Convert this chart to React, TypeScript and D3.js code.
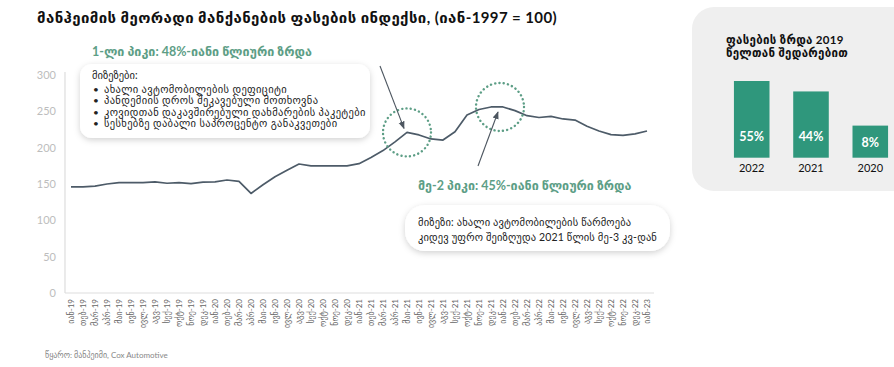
import * as d3 from "d3";

const months = ["იან", "თებ", "მარ", "აპრ", "მაი", "ივნ", "ივლ", "აგვ", "სექ", "ოქტ", "ნოე", "დეკ"];
const years = ["19", "20", "21", "22"];
const periods = [...years.flatMap((y) => months.map((m) => `${m}-${y}`)), "იან-23"];

// manheim index, jan 2019 .. jan 2023
const priceIndex = [
  146, 146, 147, 150, 152, 152, 152, 153, 151, 152, 150.5, 152.5,
  153, 155.5, 153.5, 137, 149, 160, 169, 177.5, 175, 175, 175, 175,
  178, 186.5, 196, 208, 221, 217.5, 212, 210.5, 222, 245, 252.5, 256,
  256, 251, 244, 241.5, 243, 239.5, 238, 229.5, 223, 218, 217, 219,
  223,
];
const yTicks = [0, 50, 100, 150, 200, 250, 300];

const compareYears = ["2022", "2021", "2020"];
const compareGrowth = [55, 44, 8];

const reasons = [
  "ახალი ავტომობილების დეფიციტი",
  "პანდემიის დროს შეკავებული მოთხოვნა",
  "კოვიდთან დაკავშირებული დახმარების პაკეტები",
  "სესხებზე დაბალი საპროცენტო განაკვეთები",
];

const W = 894;
const H = 367;
const FONT = "Lato, 'DejaVu Sans', sans-serif";
const GREEN = "#5d9e86";
const TEAL = "#2f977c";
const LINE = "#4d5b68";

export default function App() {
  const x = d3.scalePoint<string>().domain(periods).range([71, 647]);
  const y = d3.scaleLinear().domain([0, 300]).range([293, 75]);
  const line = d3
    .line<number>()
    .x((_, i) => x(periods[i]) as number)
    .y((d) => y(d));

  const bx = d3.scaleBand().domain(compareYears).range([728, 894]).paddingInner(0.4).paddingOuter(0.1);
  const by = d3.scaleLinear().domain([-25.8, 55]).range([157.7, 81]);

  const peak1 = { cx: x(periods[28]) as number, cy: y(priceIndex[28]) };
  const peak2 = { cx: ((x(periods[35]) as number) + (x(periods[36]) as number)) / 2 + 3, cy: y(256) };

  return (
    <div style={{ position: "fixed", left: 0, top: 0 }}>
      <svg width={W} height={H} style={{ display: "block", background: "#fff", fontFamily: FONT }}>
        <defs>
          <filter id="shadow" x="-10%" y="-30%" width="120%" height="170%">
            <feDropShadow dx="0" dy="2" stdDeviation="3" floodColor="#000" floodOpacity="0.18" />
          </filter>
          <marker id="arrow" viewBox="0 0 10 10" refX="9" refY="5" markerWidth="7" markerHeight="7" orient="auto">
            <path d="M0,1 L10,5 L0,9 z" fill="#4d5660" />
          </marker>
        </defs>

        {/* title */}
        <text x={37} y={23} fontSize={15} fontWeight="bold" fill="#111" letterSpacing={0.4}>
          მანჰეიმის მეორადი მანქანების ფასების ინდექსი,  (იან-1997 = 100)
        </text>

        {/* axes */}
        <line x1={65} x2={65} y1={72} y2={293} stroke="#dddddd" strokeWidth={1.2} />
        <line x1={65} x2={654} y1={293} y2={293} stroke="#dddddd" strokeWidth={1.2} />
        {yTicks.map((t) => (
          <text key={t} x={56} y={y(t)} dy="0.35em" textAnchor="end" fontSize={11} fill="#bdbdbd">
            {t}
          </text>
        ))}
        {periods.map((p) => (
          <text
            key={p}
            transform={`translate(${(x(p) as number) + 3},299) rotate(-90)`}
            textAnchor="end"
            fontSize={8}
            fill="#666"
          >
            {p}
          </text>
        ))}

        {/* index line */}
        <path d={line(priceIndex) ?? ""} fill="none" stroke={LINE} strokeWidth={1.7} strokeLinejoin="round" />

        {/* peak circles */}
        {[peak1, peak2].map((c, i) => (
          <circle
            key={i}
            cx={c.cx}
            cy={c.cy}
            r={24}
            fill="none"
            stroke={GREEN}
            strokeWidth={2.4}
            strokeDasharray="0.1 4.2"
            strokeLinecap="round"
          />
        ))}

        {/* arrows */}
        <line x1={380} y1={66} x2={peak1.cx - 3} y2={peak1.cy - 4} stroke="#4d5660" strokeWidth={1.1} markerEnd="url(#arrow)" />
        <line x1={478} y1={166} x2={peak2.cx - 2} y2={peak2.cy + 5} stroke="#4d5660" strokeWidth={1.1} markerEnd="url(#arrow)" />

        {/* annotation 1 */}
        <text x={92} y={56} fontSize={12.5} fontWeight="bold" fill={GREEN}>
          1-ლი პიკი: 48%-იანი წლიური ზრდა
        </text>
        <rect x={80} y={64} width={290} height={74} rx={12} fill="#fff" filter="url(#shadow)" />
        <text x={92} y={79} fontSize={10.5} fill="#222">მიზეზები:</text>
        {reasons.map((r, i) => (
          <g key={r}>
            <text x={93} y={92.5 + i * 11.5} fontSize={10} fill="#222">•</text>
            <text x={104} y={92.5 + i * 11.5} fontSize={10.5} fill="#222" letterSpacing={0.35}>{r}</text>
          </g>
        ))}

        {/* annotation 2 */}
        <text x={418} y={190} fontSize={12.5} fontWeight="bold" fill={GREEN}>
          მე-2 პიკი: 45%-იანი წლიური ზრდა
        </text>
        <rect x={405} y={205} width={265} height={46} rx={20} fill="#fff" filter="url(#shadow)" />
        <text x={418} y={226} fontSize={10.5} fill="#222" letterSpacing={0.15}>მიზეზი: ახალი ავტომობილების წარმოება</text>
        <text x={418} y={241} fontSize={10.5} fill="#222" letterSpacing={0.15}>კიდევ უფრო შეიზღუდა 2021 წლის მე-3 კვ-დან</text>

        {/* side panel */}
        <rect x={692} y={7} width={230} height={184} rx={22} fill="#efefef" />
        <text x={726} y={44} fontSize={11.5} fontWeight="bold" fill="#111" letterSpacing={0.3}>ფასების ზრდა 2019</text>
        <text x={726} y={57} fontSize={11.5} fontWeight="bold" fill="#111" letterSpacing={0.3}>წელთან შედარებით</text>
        {compareYears.map((yr, i) => {
          const v = compareGrowth[i];
          const bxv = bx(yr) as number;
          const bw = bx.bandwidth();
          return (
            <g key={yr}>
              <rect x={bxv} y={by(v)} width={bw} height={157.7 - by(v)} fill={TEAL} />
              <text
                x={bxv + bw / 2}
                y={v < 20 ? 147 : 141}
                textAnchor="middle"
                fontSize={12.5}
                fontWeight="bold"
                fill="#fff"
              >
                {v}%
              </text>
              <text x={bxv + bw / 2} y={172} textAnchor="middle" fontSize={11} fill="#111">
                {yr}
              </text>
            </g>
          );
        })}

        {/* source */}
        <text x={45} y={358} fontSize={8} fill="#888">წყარო: მანჰეიმი, Cox Automotive</text>
      </svg>
    </div>
  );
}
